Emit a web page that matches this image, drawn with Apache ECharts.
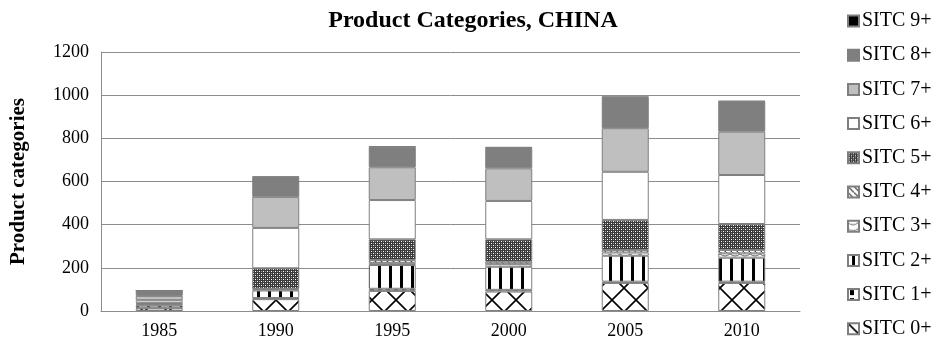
<!DOCTYPE html>
<html>
<head>
<meta charset="utf-8">
<script src="https://cdn.jsdelivr.net/npm/echarts@6/dist/echarts.min.js"></script>
<style>
  html, body { margin: 0; padding: 0; background: #fff; }
  #chart { width: 942px; height: 351px; }
</style>
</head>
<body>
<div id="chart"></div>
<script>
// Years on the category axis
const years = ['1985', '1990', '1995', '2000', '2005', '2010'];

// Number of product categories per SITC section, per year
const sitc0 = [12, 55, 93, 90, 130, 130];
const sitc1 = [3, 5, 10, 8, 6, 6];
const sitc2 = [10, 35, 110, 107, 120, 111];
const sitc3 = [5, 5, 10, 12, 15, 20];
const sitc4 = [3, 3, 13, 11, 12, 16];
const sitc5 = [5, 95, 96, 104, 139, 120];
const sitc6 = [12, 187, 182, 178, 223, 227];
const sitc7 = [20, 144, 152, 151, 202, 201];
const sitc8 = [25, 92, 95, 96, 144, 140];
const sitc9 = [0, 2, 2, 2, 2, 2];

const seriesNames = ['SITC 0+', 'SITC 1+', 'SITC 2+', 'SITC 3+', 'SITC 4+',
                     'SITC 5+', 'SITC 6+', 'SITC 7+', 'SITC 8+', 'SITC 9+'];
const seriesValues = [sitc0, sitc1, sitc2, sitc3, sitc4, sitc5, sitc6, sitc7, sitc8, sitc9];

// Y-axis ticks
const yTicks = { min: 0, max: 1200, interval: 200 };

// Small canvas tiles used as fill patterns
function tile(w, h, draw) {
  const c = document.createElement('canvas');
  c.width = w; c.height = h;
  const g = c.getContext('2d');
  g.fillStyle = '#fff';
  g.fillRect(0, 0, w, h);
  draw(g, w, h);
  return { image: c, repeat: 'repeat' };
}

const fills = [
  // 0+: large diagonal lattice
  tile(24, 24, (g, w, h) => {
    g.strokeStyle = '#000'; g.lineWidth = 1.6;
    g.beginPath();
    g.moveTo(0, 0); g.lineTo(w, h);
    g.moveTo(w, 0); g.lineTo(0, h);
    g.stroke();
  }),
  // 1+: small black blocks
  tile(8, 8, (g) => {
    g.fillStyle = '#000';
    g.fillRect(2, 1, 4, 5);
  }),
  // 2+: vertical bars
  tile(11, 4, (g) => {
    g.fillStyle = '#000';
    g.fillRect(4, 0, 3, 4);
  }),
  // 3+: small waves
  tile(10, 6, (g) => {
    g.strokeStyle = '#666'; g.lineWidth = 1;
    g.beginPath();
    g.moveTo(0, 2); g.quadraticCurveTo(5, 6, 10, 2);
    g.stroke();
  }),
  // 4+: diagonal hatching
  tile(6, 6, (g) => {
    g.strokeStyle = '#333'; g.lineWidth = 1.2;
    g.beginPath();
    g.moveTo(0, 0); g.lineTo(6, 6);
    g.stroke();
  }),
  // 5+: dense dots
  tile(4, 4, (g) => {
    g.fillStyle = '#3a3a3a';
    g.fillRect(0, 0, 4, 4);
    g.fillStyle = '#fff';
    g.fillRect(1, 1, 1, 1);
    g.fillRect(3, 3, 1, 1);
    g.fillStyle = '#999';
    g.fillRect(3, 1, 1, 1);
    g.fillRect(1, 3, 1, 1);
  }),
  '#ffffff',
  '#bfbfbf',
  '#7f7f7f',
  '#000000'
];

const serif = '"Liberation Serif", "DejaVu Serif", serif';

const series = seriesNames.map((name, i) => ({
  name: name,
  type: 'bar',
  stack: 'total',
  barWidth: 47,
  data: seriesValues[i],
  itemStyle: {
    color: fills[i],
    borderColor: '#7f7f7f',
    borderWidth: 1
  },
  emphasis: { disabled: true }
}));

const chart = echarts.init(document.getElementById('chart'), null, { renderer: 'canvas' });
chart.setOption({
  animation: false,
  backgroundColor: '#fff',
  title: {
    text: 'Product Categories, CHINA',
    left: 468,
    textAlign: 'center',
    top: 4,
    textStyle: { fontFamily: serif, fontSize: 24, fontWeight: 'bold', color: '#000' }
  },
  legend: {
    type: 'plain',
    orient: 'vertical',
    left: 847,
    top: 11,
    height: 340,
    padding: 0,
    data: seriesNames.slice().reverse(),
    icon: 'rect',
    itemWidth: 11,
    itemHeight: 11,
    itemGap: 14.2,
    textStyle: { fontFamily: serif, fontSize: 20, color: '#000', lineHeight: 19, padding: [0, 0, 0, -2] }
  },
  grid: { left: 101, right: 142, top: 52, bottom: 40, containLabel: false },
  xAxis: {
    type: 'category',
    data: years,
    axisLine: { lineStyle: { color: '#8c8c8c', width: 1 } },
    axisTick: { show: false },
    axisLabel: { fontFamily: serif, fontSize: 18, color: '#000', margin: 11 }
  },
  yAxis: {
    type: 'value',
    min: yTicks.min,
    max: yTicks.max,
    interval: yTicks.interval,
    name: 'Product categories',
    nameLocation: 'middle',
    nameGap: 72,
    nameTextStyle: { fontFamily: serif, fontSize: 21, fontWeight: 'bold', color: '#000' },
    axisLine: { show: true, lineStyle: { color: '#8c8c8c', width: 1 } },
    axisTick: { show: false },
    splitLine: { lineStyle: { color: '#8c8c8c', width: 1 } },
    axisLabel: { fontFamily: serif, fontSize: 18, color: '#000', margin: 12, formatter: (v) => String(v) }
  },
  series: series
});
</script>
</body>
</html>
